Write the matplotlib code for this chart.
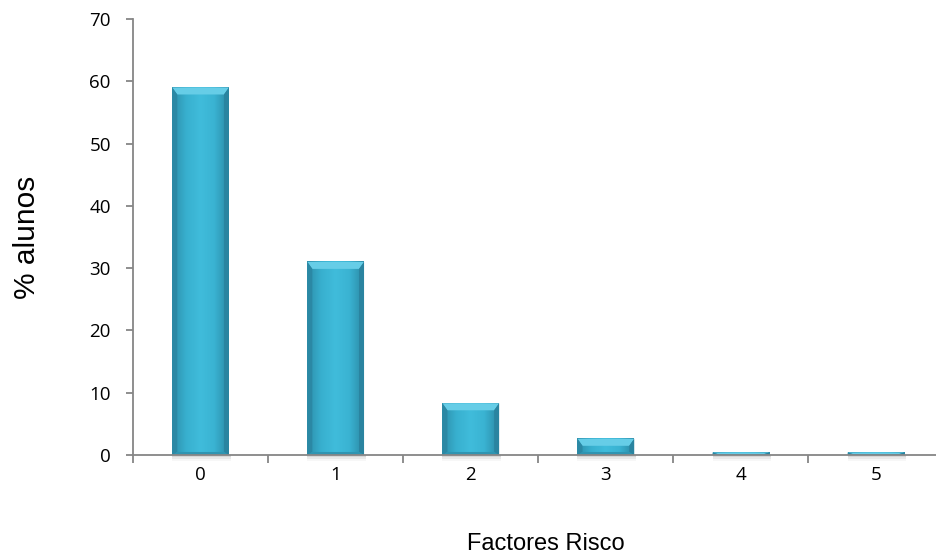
import numpy as np
import matplotlib.pyplot as plt
from matplotlib.patches import Polygon
from matplotlib.colors import LinearSegmentedColormap

# datos: % de alunos por número de factores de risco
factores = [0, 1, 2, 3, 4, 5]
pct_alunos = [59, 31, 8.3, 2.6, 0.4, 0.4]
ytick_vals = [0, 10, 20, 30, 40, 50, 60, 70]

W, H, DPI = 937, 558, 100
fig = plt.figure(figsize=(W / DPI, H / DPI), dpi=DPI)
ax = fig.add_axes([0.142, 0.1846, 0.865, 0.7814])

xmin, xmax = -0.5, 5.5
ymin, ymax = 0, 70
bar_w = 0.42
gris = '#868686'

# escala px -> dados, para os biséis terem tamanho fixo em pixels
ax_px_w = 0.865 * W
ax_px_h = 0.7814 * H
xpp = (xmax - xmin) / ax_px_w
ypp = (ymax - ymin) / ax_px_h

face_cmap = LinearSegmentedColormap.from_list(
    'face', ['#2d8fab', '#38b0cf', '#40bcdb', '#3ab3d2', '#2c8aa6'])
grad = np.linspace(0, 1, 64).reshape(1, -1)


def bisel(x0, x1, v, top_px=7, side_px=5, bot_px=3):
    dy = min(top_px * ypp, v * 0.6)
    db = min(bot_px * ypp, v * 0.3)
    ddx = side_px * xpp
    pts = {
        'top': ([(x0, v), (x1, v), (x1 - ddx, v - dy), (x0 + ddx, v - dy)], '#66cde7'),
        'left': ([(x0, 0), (x0, v), (x0 + ddx, v - dy), (x0 + ddx, db)], '#2b88a4'),
        'right': ([(x1, 0), (x1, v), (x1 - ddx, v - dy), (x1 - ddx, db)], '#2a84a0'),
        'bottom': ([(x0, 0), (x1, 0), (x1 - ddx, db), (x0 + ddx, db)], '#2f95b2'),
    }
    for xy, c in pts.values():
        ax.add_patch(Polygon(xy, closed=True, facecolor=c, edgecolor='none', zorder=3))


for x, v in zip(factores, pct_alunos):
    x0, x1 = x - bar_w / 2, x + bar_w / 2

    # sombra suave por baixo
    for k, a in enumerate([0.35, 0.2, 0.1]):
        ax.add_patch(Polygon([(x0, -(k + 1) * 2 * ypp), (x1 + 2 * xpp, -(k + 1) * 2 * ypp),
                              (x1 + 2 * xpp, 0), (x0, 0)], closed=True,
                             facecolor='#b5b5b5', edgecolor='none', alpha=a,
                             zorder=1, clip_on=False))

    # face com gradiente horizontal
    ax.imshow(grad, cmap=face_cmap, extent=[x0, x1, 0, v], aspect='auto',
              interpolation='bicubic', zorder=2)
    bisel(x0, x1, v)

ax.set_xlim(xmin, xmax)
ax.set_ylim(ymin, ymax)

# eixos
for s in ('top', 'right'):
    ax.spines[s].set_visible(False)
for s in ('left', 'bottom'):
    ax.spines[s].set_color(gris)
    ax.spines[s].set_linewidth(1.3)
    ax.spines[s].set_zorder(4)

ax.set_yticks(ytick_vals)
ax.set_yticklabels([str(t) for t in ytick_vals], fontfamily='Open Sans', fontsize=13.5)
ax.tick_params(axis='y', direction='out', length=5, width=1.3, color=gris, pad=11)

ax.set_xticks(factores)
ax.set_xticklabels([str(f) for f in factores], fontfamily='Open Sans', fontsize=13.5)
ax.tick_params(axis='x', which='major', length=0, pad=8)
ax.set_xticks(np.arange(xmin, xmax, 1.0), minor=True)
ax.tick_params(axis='x', which='minor', direction='out', length=6, width=1.3, color=gris)

ax.set_ylabel('% alunos', fontfamily='Liberation Sans', fontsize=21.5)
ax.yaxis.set_label_coords(-0.1135, 0.5)
ax.set_xlabel('Factores Risco', fontfamily='Liberation Sans', fontsize=17)
ax.xaxis.set_label_coords(0.5096, -0.178)

fig.savefig('out.png', dpi=DPI)
